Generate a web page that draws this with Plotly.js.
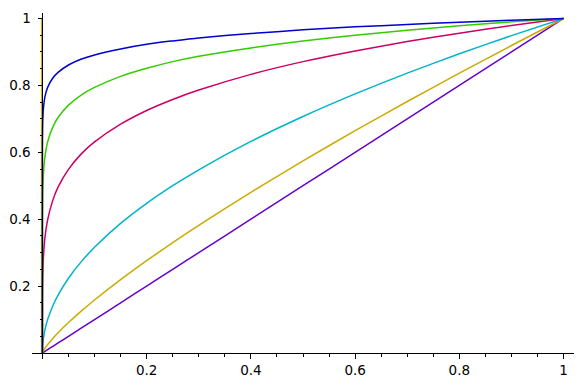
<!DOCTYPE html>
<html>
<head>
<meta charset="utf-8">
<script src="https://cdn.plot.ly/plotly-3.0.1.min.js"></script>
<style>html,body{margin:0;padding:0;background:#fff}#chart{width:587px;height:387px}</style>
</head>
<body>
<div id="chart"></div>
<script>
// sample positions along x
const xs = [0, 0.00001, 0.0001, 0.0005, 0.001, 0.002, 0.005, 0.01, 0.02, 0.03, 0.05, 0.075, 0.1, 0.15, 0.2, 0.25, 0.3, 0.4, 0.5, 0.6, 0.7, 0.8, 0.9, 1.0];
// curve values
const blueY    = [0, 0.562, 0.631, 0.684, 0.708, 0.733, 0.767, 0.794, 0.822, 0.839, 0.861, 0.879, 0.891, 0.909, 0.923, 0.933, 0.942, 0.955, 0.966, 0.975, 0.982, 0.989, 0.995, 1];
const greenY   = [0, 0.316, 0.398, 0.468, 0.501, 0.537, 0.589, 0.631, 0.676, 0.704, 0.741, 0.772, 0.794, 0.827, 0.851, 0.871, 0.887, 0.912, 0.933, 0.950, 0.965, 0.978, 0.990, 1];
const magentaY = [0, 0.100, 0.158, 0.219, 0.251, 0.289, 0.347, 0.398, 0.457, 0.496, 0.549, 0.596, 0.631, 0.684, 0.725, 0.758, 0.786, 0.833, 0.871, 0.903, 0.931, 0.956, 0.979, 1];
const cyanY    = [0, 0.0032, 0.01, 0.0224, 0.0316, 0.0447, 0.0707, 0.1, 0.1414, 0.1732, 0.2236, 0.2739, 0.3162, 0.3873, 0.4472, 0.5, 0.5477, 0.6325, 0.7071, 0.7746, 0.8367, 0.8944, 0.9487, 1];
const yellowY  = [0, 0.0001, 0.0006, 0.0023, 0.004, 0.0069, 0.0144, 0.0251, 0.0437, 0.0605, 0.0910, 0.1259, 0.1585, 0.2192, 0.2760, 0.3299, 0.3817, 0.4804, 0.5743, 0.6645, 0.7518, 0.8365, 0.9192, 1];
const purpleY  = [0, 0.00001, 0.0001, 0.0005, 0.001, 0.002, 0.005, 0.01, 0.02, 0.03, 0.05, 0.075, 0.1, 0.15, 0.2, 0.25, 0.3, 0.4, 0.5, 0.6, 0.7, 0.8, 0.9, 1.0];
// thin stripe seen along the left of the vertical axis
const edgeX = [-0.002, -0.002];
const edgeY = [0, 1];

const seriesList = [
  {y: edgeY, x: edgeX, color: '#c9a400', w: 1},
  {y: purpleY, color: '#6600cc', w: 1.5},
  {y: yellowY, color: '#ccaa00', w: 1.5},
  {y: cyanY, color: '#00b3cc', w: 1.5},
  {y: magentaY, color: '#cc0066', w: 1.5},
  {y: greenY, color: '#33cc00', w: 1.5},
  {y: blueY, color: '#0000cc', w: 1.5}
];

// ticks
const xMajor = [0, 0.2, 0.4, 0.6, 0.8, 1];
const xMajorText = ['', '0.2', '0.4', '0.6', '0.8', '1'];
const xMinor = [0.05, 0.1, 0.15, 0.25, 0.3, 0.35, 0.45, 0.5, 0.55, 0.65, 0.7, 0.75, 0.85, 0.9, 0.95];
const yMajor = [0, 0.2, 0.4, 0.6, 0.8, 1];
const yMajorText = ['', '0.2', '0.4', '0.6', '0.8', '1'];
const yMinor = [0.05, 0.1, 0.15, 0.25, 0.3, 0.35, 0.45, 0.5, 0.55, 0.65, 0.7, 0.75, 0.85, 0.9, 0.95];

const traces = seriesList.map(s => ({
  type: 'scatter', mode: 'lines',
  x: s.x || xs, y: s.y,
  line: {color: s.color, width: s.w, shape: 'spline', smoothing: 0.6},
  hoverinfo: 'skip', showlegend: false
}));

const font = {family: 'DejaVu Sans, sans-serif', size: 13.5, color: '#000'};

const layout = {
  width: 587, height: 387,
  margin: {l: 32, r: 13, t: 13, b: 34, pad: 0},
  paper_bgcolor: '#fff', plot_bgcolor: '#fff',
  showlegend: false,
  font: font,
  xaxis: {
    range: [-0.02, 1.02], showgrid: false, zeroline: false,
    showline: true, linecolor: '#000', linewidth: 1,
    tickmode: 'array', tickvals: xMajor, ticktext: xMajorText,
    ticks: 'outside', ticklen: 5, tickwidth: 1, tickcolor: '#000',
    ticklabelstandoff: 0,
    minor: {tickmode: 'array', tickvals: xMinor, ticks: 'outside', ticklen: 2.5, tickwidth: 1, tickcolor: '#000', showgrid: false},
    tickfont: font, fixedrange: true
  },
  yaxis: {
    range: [0, 1.0164], showgrid: false, zeroline: false,
    anchor: 'free', position: 0.02 / 1.04, overlaying: false,
    showline: true, linecolor: '#000', linewidth: 1,
    tickmode: 'array', tickvals: yMajor, ticktext: yMajorText,
    ticks: 'outside', ticklen: 4, tickwidth: 1, tickcolor: '#000',
    ticklabelstandoff: 5,
    minor: {tickmode: 'array', tickvals: yMinor, ticks: 'outside', ticklen: 2.5, tickwidth: 1, tickcolor: '#000', showgrid: false},
    tickfont: font, fixedrange: true
  }
};

Plotly.newPlot('chart', traces, layout, {staticPlot: true, displayModeBar: false});
</script>
</body>
</html>
